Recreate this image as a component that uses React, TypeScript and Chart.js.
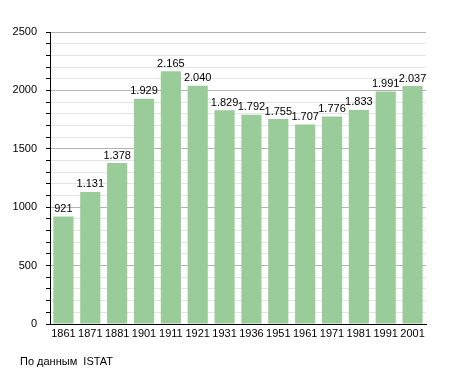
import React, { useEffect, useRef } from "react";
import { Chart, registerables } from "chart.js";

Chart.register(...registerables);

const years = ["1861", "1871", "1881", "1901", "1911", "1921", "1931", "1936", "1951", "1961", "1971", "1981", "1991", "2001"];
const population = [921, 1131, 1378, 1929, 2165, 2040, 1829, 1792, 1755, 1707, 1776, 1833, 1991, 2037];
const yMax = 2500;
const majorStep = 500;
const minorStep = 100;
const sourceNote = "По данным  ISTAT";

const FONT = "'Liberation Sans', Arial, sans-serif";

const fmt = (v: number) => String(v).replace(/\B(?=(\d{3})+(?!\d))/g, ".");

const valueLabels = {
  id: "valueLabels",
  afterDatasetsDraw(chart: any) {
    const ctx = chart.ctx;
    const meta = chart.getDatasetMeta(0);
    ctx.save();
    ctx.font = `11px ${FONT}`;
    ctx.fillStyle = "#000";
    ctx.textAlign = "center";
    ctx.textBaseline = "bottom";
    meta.data.forEach((bar: any, i: number) => {
      ctx.fillText(fmt(population[i]), bar.x, bar.y - 2);
    });
    ctx.restore();
  },
};

export default function App() {
  const ref = useRef<HTMLCanvasElement>(null);
  useEffect(() => {
    document.body.style.margin = "0";
    const chart = new Chart(ref.current!, {
      type: "bar",
      data: {
        labels: years,
        datasets: [
          {
            data: population,
            backgroundColor: "#99cc99",
            borderWidth: 0,
            barPercentage: 0.75,
            categoryPercentage: 1,
          },
        ],
      },
      options: {
        responsive: false,
        animation: false,
        layout: { padding: { left: 0, right: 29, top: 32, bottom: 29 } },
        plugins: { legend: { display: false }, tooltip: { enabled: false } },
        scales: {
          x: {
            afterFit: (s: any) => { s.height = 20; },
            grid: { display: true, drawOnChartArea: false, drawTicks: false, color: "rgba(0,0,0,0)" },
            border: { color: "#000", width: 1 },
            ticks: { color: "#000", font: { family: FONT, size: 11 }, padding: 3, maxRotation: 0, autoSkip: false },
          },
          y: {
            min: 0,
            max: yMax,
            afterFit: (s: any) => { s.width = 50; },
            border: { color: "#000", width: 1 },
            grid: {
              color: (c: any) => (c.tick && c.tick.value % majorStep === 0 ? "#b4b4b4" : "#e4e4e4"),
              tickColor: "#000",
              tickLength: 4,
            },
            ticks: {
              stepSize: minorStep,
              autoSkip: false,
              color: "#000",
              font: { family: FONT, size: 11 },
              padding: 9,
              callback: (v: any) => (Number(v) % majorStep === 0 ? String(v) : ""),
            },
          },
        },
      },
      plugins: [valueLabels],
    });
    return () => chart.destroy();
  }, []);
  return (
    <div style={{ position: "relative", width: 455, height: 373 }}>
      <canvas ref={ref} width={455} height={373} />
      <div
        style={{
          position: "absolute",
          left: 20,
          top: 355,
          fontFamily: FONT,
          fontSize: 11,
          color: "#000",
          whiteSpace: "pre",
          lineHeight: "13px",
        }}
      >
        {sourceNote}
      </div>
    </div>
  );
}
